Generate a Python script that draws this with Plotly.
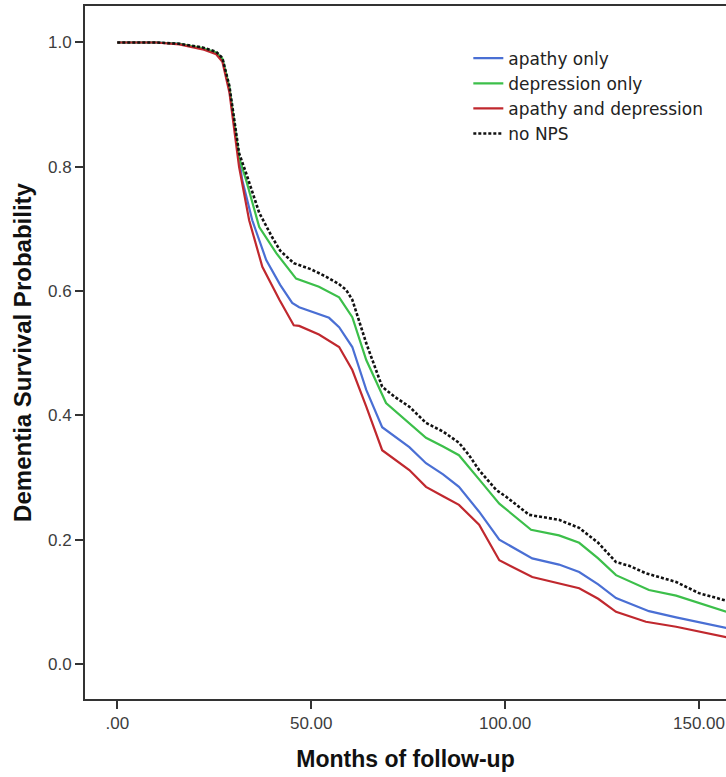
import plotly.graph_objects as go

# Kaplan-Meier style survival curves (months, survival probability)
months_no_nps = [0, 10, 16, 22, 25.5, 27.1, 28.9, 30.2, 31.4, 33.2, 36.6, 39.9, 42, 45.5, 50, 53.9, 57, 59, 60.6,
                 64.2, 68.3, 71.5, 75.3, 79.6, 84, 88.1, 90.7, 93.3, 97.7, 100.3, 106.2, 113.9, 119.1, 124,
                 128.6, 132, 136.3, 144.1, 150, 157]
surv_no_nps = [1.0, 1.0, 0.998, 0.992, 0.985, 0.975, 0.93, 0.875, 0.822, 0.79, 0.726, 0.687, 0.665, 0.645, 0.635,
               0.623, 0.612, 0.602, 0.586, 0.516, 0.446, 0.43, 0.414, 0.388, 0.374, 0.356, 0.336, 0.312, 0.28,
               0.269, 0.24, 0.232, 0.219, 0.195, 0.164, 0.158, 0.146, 0.132, 0.114, 0.102]

months_dep = [0, 10, 16, 22, 25.5, 27.1, 28.9, 30.2, 31.4, 33.2, 36.6, 41, 46.1, 52, 57.2, 60.6, 64.2, 69.3, 75.3,
              79.6, 84, 88.1, 94.1, 98.5, 106.7, 113.9, 119.1, 124, 128.6, 137.1, 144.1, 157]
surv_dep = [1.0, 1.0, 0.998, 0.991, 0.984, 0.974, 0.928, 0.87, 0.815, 0.779, 0.703, 0.661, 0.62, 0.607, 0.59,
            0.558, 0.489, 0.42, 0.388, 0.364, 0.35, 0.336, 0.291, 0.258, 0.216, 0.207, 0.195, 0.17, 0.143,
            0.119, 0.11, 0.084]

months_apathy = [0, 10, 16, 22, 25.5, 27.1, 28.9, 30.2, 32.2, 34.8, 38.4, 42, 45.1, 46.9, 54.6, 57.2, 60.6, 64.2,
                 68.3, 75.3, 79.6, 84, 88.1, 93.3, 98.5, 107, 113.9, 119.1, 124, 128.6, 137.1, 144.1, 157]
surv_apathy = [1.0, 1.0, 0.998, 0.99, 0.983, 0.972, 0.925, 0.865, 0.779, 0.714, 0.65, 0.61, 0.581, 0.574, 0.557,
               0.542, 0.51, 0.441, 0.381, 0.349, 0.323, 0.305, 0.285, 0.245, 0.2, 0.17, 0.16, 0.148, 0.128,
               0.106, 0.085, 0.075, 0.058]

months_both = [0, 10, 16, 22, 25.5, 27.1, 28.9, 30.2, 31.4, 34, 37.4, 41.8, 44.3, 45.5, 46.9, 52, 57.2, 60.6,
               64.2, 68.3, 75.3, 79.6, 84, 88.1, 93.3, 98.5, 107, 113.9, 119.1, 124, 128.6, 136.3, 144.1, 157]
surv_both = [1.0, 1.0, 0.997, 0.989, 0.981, 0.969, 0.92, 0.855, 0.8, 0.714, 0.639, 0.586, 0.558, 0.545, 0.544,
             0.53, 0.51, 0.473, 0.414, 0.344, 0.312, 0.285, 0.27, 0.256, 0.224, 0.167, 0.14, 0.13, 0.122,
             0.105, 0.084, 0.068, 0.06, 0.043]

x_tick_vals = [0, 50, 100, 150]
x_tick_text = [".00", "50.00", "100.00", "150.00"]
y_tick_vals = [0.0, 0.2, 0.4, 0.6, 0.8, 1.0]
y_tick_text = ["0.0", "0.2", "0.4", "0.6", "0.8", "1.0"]

fig = go.Figure()
fig.add_trace(go.Scatter(x=months_apathy, y=surv_apathy, mode="lines", name="apathy only",
                         line=dict(color="#4a6fd4", width=2.2)))
fig.add_trace(go.Scatter(x=months_dep, y=surv_dep, mode="lines", name="depression only",
                         line=dict(color="#3cbf4a", width=2.2)))
fig.add_trace(go.Scatter(x=months_both, y=surv_both, mode="lines", name="apathy and depression",
                         line=dict(color="#c0282e", width=2.2)))
fig.add_trace(go.Scatter(x=months_no_nps, y=surv_no_nps, mode="lines", name="no NPS",
                         line=dict(color="#111111", width=2.6, dash="3px,2px")))

font_family = "Liberation Sans, Arial, sans-serif"
fig.update_layout(
    width=726, height=777,
    margin=dict(l=85, r=0, t=6, b=78),
    paper_bgcolor="white", plot_bgcolor="white",
    font=dict(family=font_family, color="#333333"),
    showlegend=True,
    legend=dict(x=0.598, y=0.95, xanchor="left", yanchor="top",
                bgcolor="rgba(0,0,0,0)", itemwidth=30,
                font=dict(size=17, color="#222222", family="DejaVu Sans, sans-serif"),
                tracegroupgap=0),
    xaxis=dict(range=[-8.33, 156.96], tickvals=x_tick_vals, ticktext=x_tick_text,
               showgrid=False, zeroline=False, showline=True, linecolor="#333333", linewidth=2,
               mirror=True, ticks="outside", ticklen=8, tickwidth=2, tickcolor="#333333",
               tickfont=dict(size=17, color="#3c3c3c"),
               title=dict(text="<b>Months of follow-up</b>", font=dict(size=23, color="#111111"),
                          standoff=18)),
    yaxis=dict(range=[-0.0563, 1.0587], tickvals=y_tick_vals, ticktext=y_tick_text,
               showgrid=False, zeroline=False, showline=True, linecolor="#333333", linewidth=2,
               mirror=False, ticks="outside", ticklen=8, tickwidth=2, tickcolor="#333333",
               tickfont=dict(size=17, color="#3c3c3c"),
               title=dict(text="<b>Dementia Survival Probability</b>", font=dict(size=24, color="#111111"),
                          standoff=10)),
)

fig.write_html("out.html", config={"displayModeBar": False},
               post_script="document.body.style.margin='0px';")
